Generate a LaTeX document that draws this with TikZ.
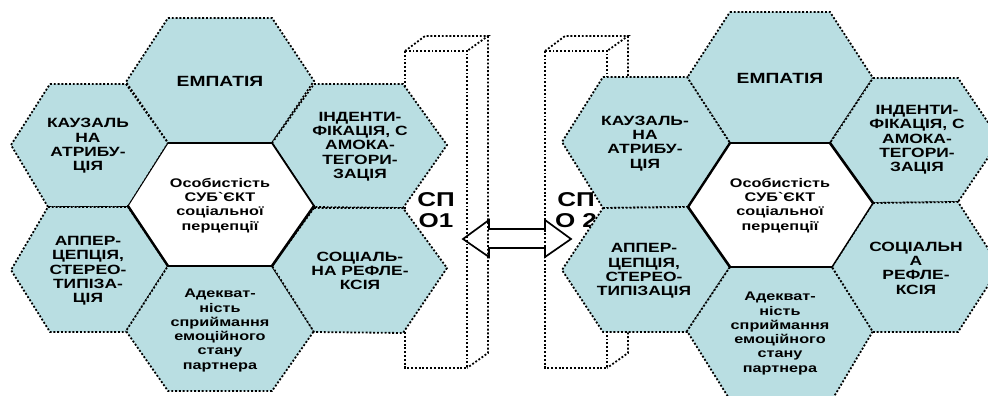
\documentclass[tikz,border=0pt]{standalone}
\usepackage{fontspec}
\newfontfamily\labfont[FakeStretch=1.3]{Liberation Sans}
\definecolor{cellblue}{HTML}{B9DEE2}
\tikzset{
  x=1pt,y=-1pt,
  cell/.style={fill=cellblue,draw=black,line width=1.8pt,dash pattern=on 1.9pt off 1.9pt},
  pillar/.style={draw=black,line width=1.8pt,dash pattern=on 1.9pt off 1.9pt},
  core/.style={fill=white,draw=none},
  rim/.style={draw=black,line cap=round},
  lab/.style={font=\labfont\bfseries\fontsize{13.4}{14.3}\selectfont,align=center,inner sep=0pt,text=black},
  head/.style={font=\labfont\bfseries\fontsize{14.8}{14.3}\selectfont,align=center,inner sep=0pt,text=black},
  sublab/.style={font=\labfont\bfseries\fontsize{12.5}{14.3}\selectfont,align=center,inner sep=0pt,text=black},
  big/.style={font=\labfont\bfseries\fontsize{20}{21}\selectfont,align=center,inner sep=0pt,text=black},
  twoway/.style={fill=white,draw=black,line width=1.7pt,line join=miter}
}
\begin{document}
\begin{tikzpicture}
\useasboundingbox (0,0) rectangle (988,396);
\clip (0,0) rectangle (988,396);
% double arrow
\draw[twoway] (463,239) -- (489,220) -- (489,229) -- (545,229) -- (545,220) -- (571,239) -- (545,257) -- (545,248) -- (489,248) -- (489,257) -- cycle;
% pillars
\draw[pillar] (405,51) rectangle (467,368);
\draw[pillar] (405,51) -- (425,36) -- (488,36) -- (467,51);
\draw[pillar] (488,36) -- (488,353) -- (467,368);
\draw[pillar] (545,51) rectangle (607,368);
\draw[pillar] (545,51) -- (565,36) -- (628,36) -- (607,51);
\draw[pillar] (628,36) -- (628,353) -- (607,368);
% pillar labels
\node[big] (spo1) at (436,210) {СП\\О1};
\node[big] (spo2) at (576,210) {СП\\О 2};
% left cluster
\draw[cell] (168,18) -- (272,18) -- (314,81) -- (272,143) -- (168,143) -- (126,82) -- cycle;
\draw[cell] (50,84) -- (126,84) -- (168,143) -- (128,207) -- (48,207) -- (11,145) -- cycle;
\draw[cell] (48,207) -- (128,207) -- (168,266) -- (126,332) -- (50,332) -- (11,270) -- cycle;
\draw[cell] (168,266) -- (272,266) -- (314,331) -- (272,391) -- (168,391) -- (126,331) -- cycle;
\draw[cell] (314,84) -- (403,84) -- (447,145) -- (403,208) -- (314,207) -- (272,143) -- cycle;
\draw[cell] (314,208) -- (403,208) -- (447,268) -- (403,333) -- (314,332) -- (272,266) -- cycle;
\fill[core] (128,206) -- (168,143) -- (272,143) -- (314,206) -- (272,266) -- (168,266) -- cycle;
\draw[rim,line width=1pt] (128,206) -- (168,143);
\draw[rim,line width=1.2pt] (168,143) -- (272,143);
\draw[rim,line width=1.8pt] (272,143) -- (314,206);
\draw[rim,line width=2.6pt] (314,206) -- (272,266);
\draw[rim,line width=1.4pt] (272,266) -- (168,266);
\draw[rim,line width=2.4pt] (168,266) -- (128,206);
% right cluster
\draw[cell] (730,12) -- (830,12) -- (873,78) -- (830,143) -- (730,143) -- (687,78) -- cycle;
\draw[cell] (603,77) -- (687,77) -- (730,143) -- (688,207) -- (603,208) -- (562,142) -- cycle;
\draw[cell] (603,208) -- (688,207) -- (730,267) -- (687,332) -- (603,332) -- (562,270) -- cycle;
\draw[cell] (730,267) -- (832,267) -- (873,331) -- (832,400) -- (730,400) -- (687,331) -- cycle;
\draw[cell] (873,78) -- (958,78) -- (1000,140) -- (958,202) -- (873,203) -- (830,143) -- cycle;
\draw[cell] (873,203) -- (958,202) -- (1000,267) -- (958,332) -- (873,332) -- (832,267) -- cycle;
\fill[core] (688,207) -- (730,143) -- (830,143) -- (873,203) -- (832,267) -- (730,267) -- cycle;
\draw[rim,line width=2.4pt] (688,207) -- (730,143);
\draw[rim,line width=1.2pt] (730,143) -- (830,143);
\draw[rim,line width=2.6pt] (830,143) -- (873,203);
\draw[rim,line width=1.4pt] (873,203) -- (832,267);
\draw[rim,line width=1.4pt] (832,267) -- (730,267);
\draw[rim,line width=2.6pt] (730,267) -- (688,207);
% left labels
\node[head] (lemp) at (220,81) {ЕМПАТІЯ};
\node[lab] (lkau) at (88,146) {КАУЗАЛЬ\\НА\\АТРИБУ-\\ЦІЯ};
\node[lab] (lind) at (360,146.5) {ІНДЕНТИ-\\ФІКАЦІЯ, С\\АМОКА-\\ТЕГОРИ-\\ЗАЦІЯ};
\node[sublab] (lcen) at (220,205.5) {Особистість\\СУБ`ЄКТ\\соціальної\\перцепції};
\node[lab] (lapp) at (88,271) {АППЕР-\\ЦЕПЦІЯ,\\СТЕРЕО-\\ТИПІЗА-\\ЦІЯ};
\node[lab] (lsoc) at (360,271) {СОЦІАЛЬ-\\НА РЕФЛЕ-\\КСІЯ};
\node[sublab] (lade) at (220,330.5) {Адекват-\\ність\\сприймання\\емоційного\\стану\\партнера};
% right labels
\node[head] (remp) at (780,78) {ЕМПАТІЯ};
\node[lab] (rkau) at (645,143.5) {КАУЗАЛЬ-\\НА\\АТРИБУ-\\ЦІЯ};
\node[lab] (rind) at (917,140) {ІНДЕНТИ-\\ФІКАЦІЯ, С\\АМОКА-\\ТЕГОРИ-\\ЗАЦІЯ};
\node[sublab] (rcen) at (780,205.5) {Особистість\\СУБ`ЄКТ\\соціальної\\перцепції};
\node[lab] (rapp) at (644,271) {АППЕР-\\ЦЕПЦІЯ,\\СТЕРЕО-\\ТИПІЗАЦІЯ};
\node[lab] (rsoc) at (916,268) {СОЦІАЛЬН\\А\\РЕФЛЕ-\\КСІЯ};
\node[sublab] (rade) at (780,333.5) {Адекват-\\ність\\сприймання\\емоційного\\стану\\партнера};
\end{tikzpicture}
\end{document}
